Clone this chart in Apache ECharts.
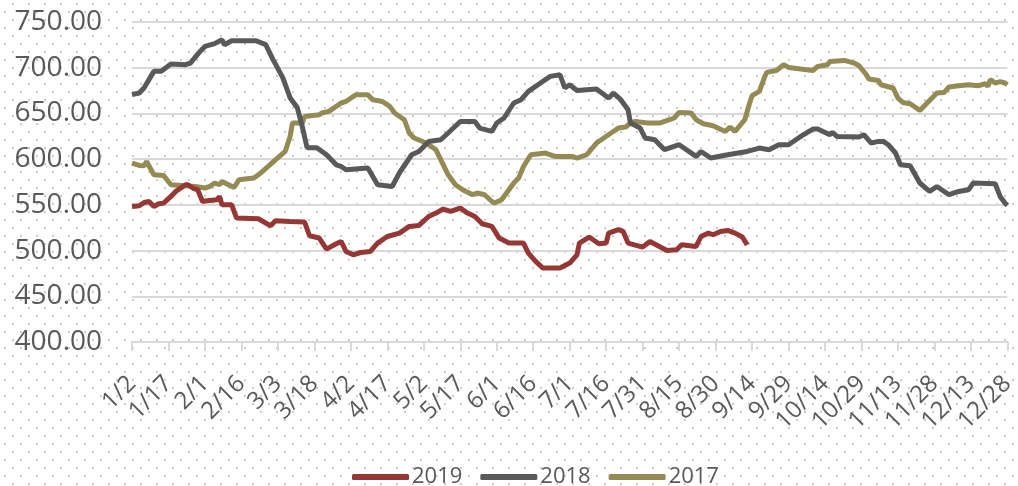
<!DOCTYPE html>
<html>
<head>
<meta charset="utf-8">
<script src="https://cdn.jsdelivr.net/npm/echarts@6/dist/echarts.min.js"></script>
<style>
html,body{margin:0;padding:0;background:#fff;}
#chart{width:1018px;height:486px;
background-image:url("data:image/svg+xml;utf8,<svg xmlns='http://www.w3.org/2000/svg' width='16' height='16'><rect x='12' y='3' width='2' height='2' fill='%23cccccc'/><rect x='4' y='11' width='2' height='2' fill='%23cccccc'/></svg>");
background-size:16px 16px;}
</style>
</head>
<body>
<div id="chart"></div>
<script>
// Tick labels (every 15 days from 1/2)
const tickLabels = ["1/2","1/17","2/1","2/16","3/3","3/18","4/2","4/17","5/2","5/17","6/1","6/16","7/1","7/16","7/31","8/15","8/30","9/14","9/29","10/14","10/29","11/13","11/28","12/13","12/28"];
const seriesNames = ["2019","2018","2017"];

// Day offsets from 1/2 and values
const days2019 = [0,3,5,7,9,11,13,16,18,22,23,25,27,29,31,35,36,37,41,43,52,57,59,65,71,73,77,80,84,86,88,91,94,98,101,105,110,114,118,122,125,128,131,135,138,141,144,148,151,155,161,163,166,169,176,180,183,184,188,192,195,196,200,202,204,210,213,220,224,226,232,234,237,239,242,245,248,251,253];
const vals2019 = [548.2,549,552.6,553.7,548.2,551.2,551.9,559.2,564.7,572,572,568.4,566.5,553.7,554.5,555.6,559.2,550.1,550.1,535.6,534.8,527.1,532.6,531.8,531.2,516.2,513.7,501.6,507.4,510,499,495.4,497.9,499,508.2,515.4,519.1,526.4,527.5,537.3,541,545.4,542.8,546.5,541,537.3,529.3,526.4,513.7,508.2,508.2,497.3,488.1,480.9,480.9,486.3,495.4,508.2,514.8,507.4,508.2,519.1,522.8,520.9,508.2,503.8,510,500.1,500.9,506.3,504.5,515.4,519.1,517.3,520.9,522,519.1,514.8,506.3];

const days2018 = [0,3,5,9,12,16,22,24,28,30,34,37,38,41,51,55,58,62,65,68,70,72,76,80,84,86,88,97,101,107,110,115,118,122,127,130,135,141,143,148,150,153,157,160,163,168,172,176,178,180,183,191,196,198,201,204,205,209,211,215,219,225,232,234,238,245,253,258,262,266,270,275,280,282,287,288,290,299,301,304,307,309,311,314,316,320,324,328,331,336,340,344,346,355,357,359,360];
const vals2018 = [670.5,672.3,678.1,696,696,704,703.3,705.1,717.8,723.3,726.3,730.6,725.2,729.5,729.5,725.2,708.8,689.1,667.2,656.2,635.8,612.5,612.5,604.8,593.8,592,588.4,590.3,572,570.1,585.1,604.8,608.4,619.4,621.2,628.6,641.2,641.2,634,630.3,639.5,645,661.4,665,674.1,683.3,690.5,692.3,677.8,681.4,675,676.7,666.8,672.3,665,654,639.5,634,623.1,621.2,610.3,615.8,603,608.4,601.2,604.8,608.4,612.1,610.3,615.8,615.8,624.8,632.9,632.9,626.7,629.2,624.8,624.2,626.7,617.6,619.4,619.4,615.8,606.7,593.9,592.8,573.9,564.7,570.1,561.1,564.7,566.5,573.9,573.1,559.2,552,549.3];

const days2017 = [0,3,5,6,9,13,16,26,30,32,34,36,37,42,44,50,52,56,59,63,65,66,70,71,77,78,81,86,88,92,97,99,103,106,108,112,114,116,121,125,127,130,133,136,140,142,145,148,149,152,155,157,159,161,164,170,174,176,181,183,187,191,193,197,200,203,205,207,212,217,221,223,225,230,232,235,239,244,246,248,252,254,255,258,260,261,265,268,270,275,280,282,286,287,293,297,299,302,303,307,308,313,315,317,320,324,327,329,331,334,336,340,344,348,351,352,353,355,357,359,360];
const vals2017 = [595.7,593.1,592.8,597.5,582.9,582.2,572,570.1,568.4,570.1,573.9,572,575.6,569.1,577.5,579.3,582.9,592,599.3,608.4,624.8,639.5,639.5,646.7,648.6,650.4,652.2,661.4,663.1,670.5,670.5,665,663.1,657.7,650.4,643.1,628.6,623.1,617.6,610.3,599.3,582.9,572,566.5,561.1,562.9,561.1,553.7,552,555.6,566.5,573.9,579.3,592,604.8,606.7,603,603,603,601.2,604.8,617.6,621.2,628.6,634,635.1,639.5,641.2,639.5,639.5,643.1,645,651.1,650.4,643.1,638.7,636.5,630.3,635.1,630.3,643.1,661.4,669.4,674.1,688.7,694.9,697,703.3,700.3,698.6,697,701.4,703.3,706.9,708,705.1,702.2,692.3,687.6,686.1,681.4,677.8,666.8,662,660.6,653.3,661.4,666.8,672.3,673,678.9,680.3,681.4,680.3,682.5,679.5,686.9,683.3,684.7,683.3,681.4];

const colors = ["#953735","#595959","#948A54"];

function pairs(d, v){ return d.map((x,i)=>[x, v[i]]); }

const chart = echarts.init(document.getElementById('chart'), null, {renderer:'canvas'});
const FONT = "'Open Sans', 'Noto Sans', sans-serif";
chart.setOption({
  animation:false,
  backgroundColor:'transparent',
  textStyle:{fontFamily:FONT},
  grid:{left:132, right:7, top:22, bottom:144},
  legend:{
    left:347, top:461,
    icon:'roundRect', itemWidth:57, itemHeight:6, itemGap:18,
    textStyle:{fontSize:22, color:'#595959', fontFamily:FONT, padding:[0,0,0,-2]},
    data:seriesNames
  },
  xAxis:{
    type:'value', min:0, max:360, interval:15,
    axisLine:{show:true, lineStyle:{color:'#d9d9d9', width:2}},
    axisTick:{show:true, length:9, lineStyle:{color:'#d9d9d9', width:2}},
    splitLine:{show:false},
    axisLabel:{
      rotate:45, margin:38, fontSize:24, color:'#595959', fontFamily:FONT,
      showMinLabel:true, showMaxLabel:true,
      formatter:function(v){ const i=Math.round(v/15); return tickLabels[i]||''; }
    }
  },
  yAxis:{
    type:'value', min:400, max:750, interval:50,
    axisLine:{show:false}, axisTick:{show:false},
    splitLine:{show:true, lineStyle:{color:'#d9d9d9', width:2}},
    axisLabel:{fontSize:28, color:'#595959', margin:30, fontFamily:FONT,
      formatter:function(v){ return v.toFixed(2); }}
  },
  series:[
    {name:seriesNames[0], type:'line', data:pairs(days2019, vals2019), symbol:'none', lineStyle:{width:5, color:colors[0]}, itemStyle:{color:colors[0]}, z:4},
    {name:seriesNames[1], type:'line', data:pairs(days2018, vals2018), symbol:'none', lineStyle:{width:5, color:colors[1]}, itemStyle:{color:colors[1]}, z:3},
    {name:seriesNames[2], type:'line', data:pairs(days2017, vals2017), symbol:'none', lineStyle:{width:5, color:colors[2]}, itemStyle:{color:colors[2]}, z:2}
  ]
});
</script>
</body>
</html>
